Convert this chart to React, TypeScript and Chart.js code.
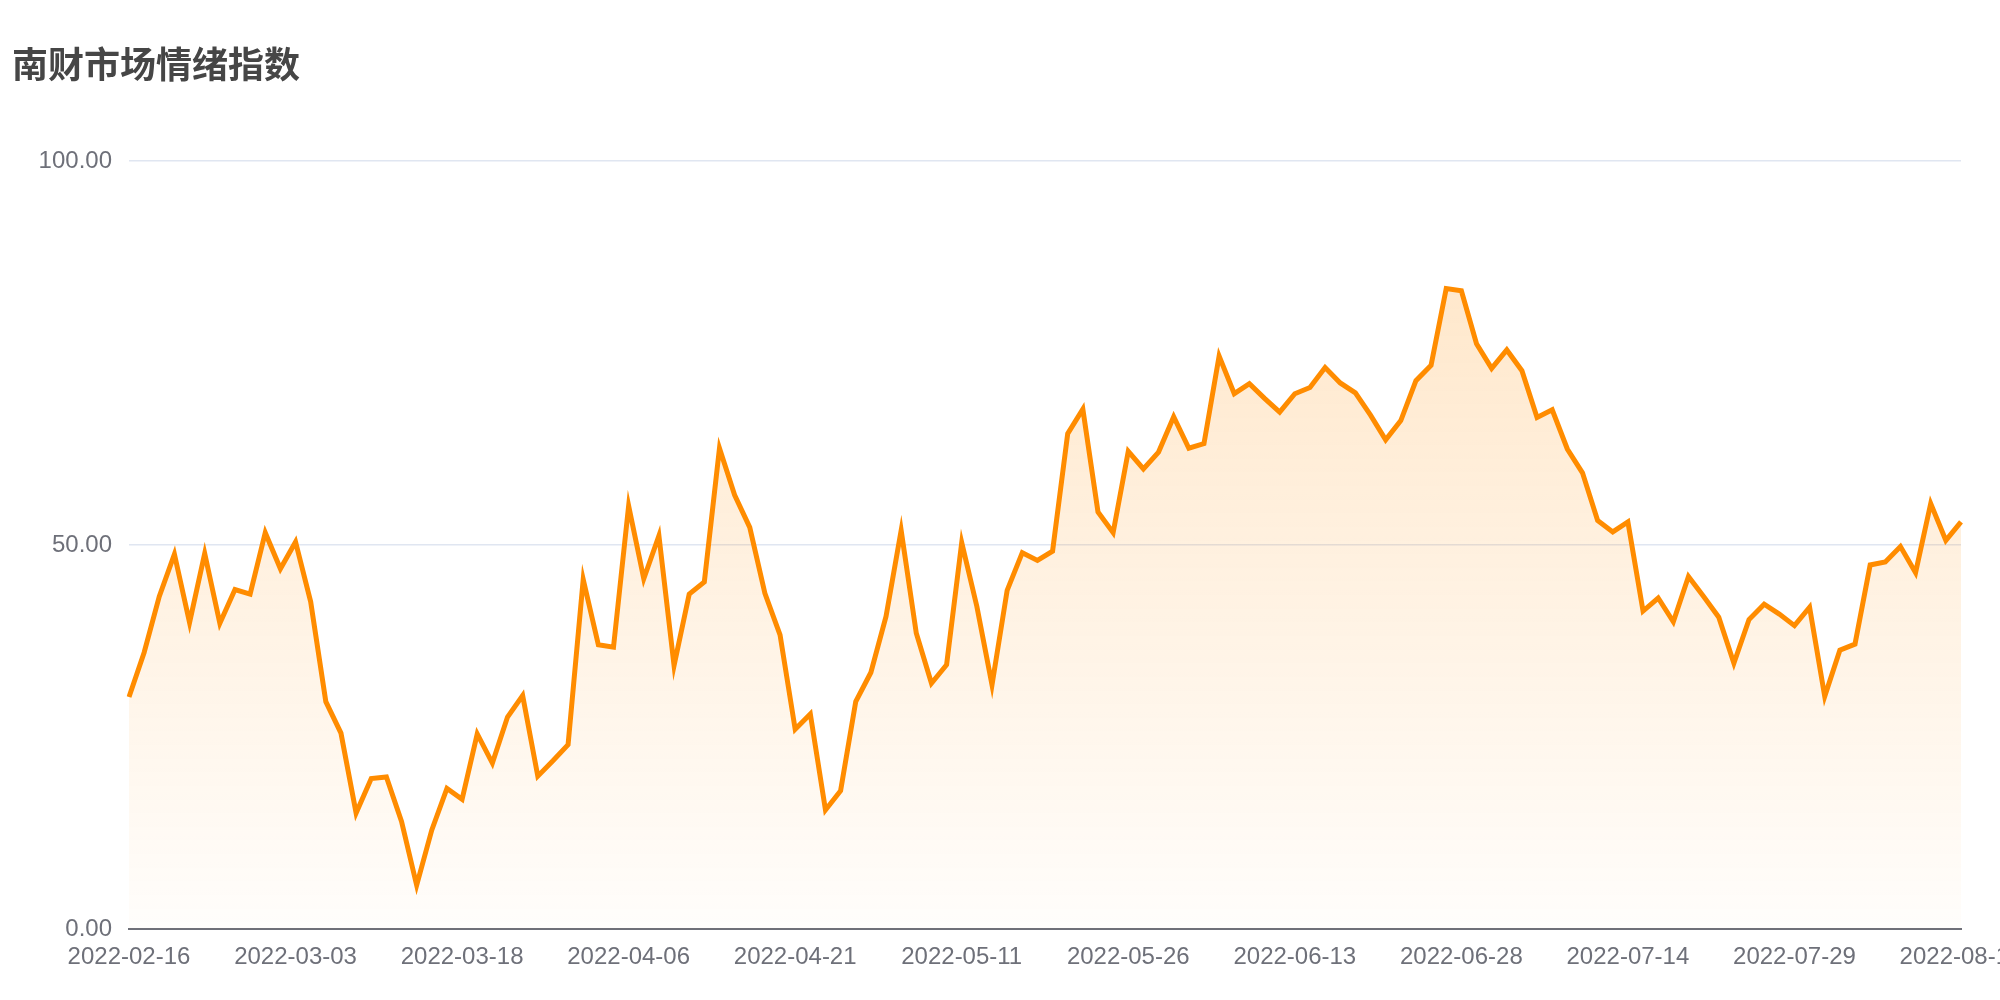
import React, { useEffect, useRef } from "react";
import { Chart, registerables } from "chart.js";

Chart.register(...registerables);

const TITLE = "南财市场情绪指数";

const dates: string[] = [
  "2022-02-16", "2022-02-17", "2022-02-18", "2022-02-21", "2022-02-22", "2022-02-23", "2022-02-24", "2022-02-25", "2022-02-28",
  "2022-03-01", "2022-03-02", "2022-03-03", "2022-03-04", "2022-03-07", "2022-03-08", "2022-03-09", "2022-03-10", "2022-03-11",
  "2022-03-14", "2022-03-15", "2022-03-16", "2022-03-17", "2022-03-18", "2022-03-21", "2022-03-22", "2022-03-23", "2022-03-24",
  "2022-03-25", "2022-03-28", "2022-03-29", "2022-03-30", "2022-03-31", "2022-04-01", "2022-04-06", "2022-04-07", "2022-04-08",
  "2022-04-11", "2022-04-12", "2022-04-13", "2022-04-14", "2022-04-15", "2022-04-18", "2022-04-19", "2022-04-20", "2022-04-21",
  "2022-04-22", "2022-04-25", "2022-04-26", "2022-04-27", "2022-04-28", "2022-04-29", "2022-05-05", "2022-05-06", "2022-05-09",
  "2022-05-10", "2022-05-11", "2022-05-12", "2022-05-13", "2022-05-16", "2022-05-17", "2022-05-18", "2022-05-19", "2022-05-20",
  "2022-05-23", "2022-05-24", "2022-05-25", "2022-05-26", "2022-05-27", "2022-05-30", "2022-05-31", "2022-06-01", "2022-06-02",
  "2022-06-06", "2022-06-07", "2022-06-08", "2022-06-09", "2022-06-10", "2022-06-13", "2022-06-14", "2022-06-15", "2022-06-16",
  "2022-06-17", "2022-06-20", "2022-06-21", "2022-06-22", "2022-06-23", "2022-06-24", "2022-06-27", "2022-06-28", "2022-06-29",
  "2022-06-30", "2022-07-04", "2022-07-05", "2022-07-06", "2022-07-07", "2022-07-08", "2022-07-11", "2022-07-12", "2022-07-13",
  "2022-07-14", "2022-07-15", "2022-07-18", "2022-07-19", "2022-07-20", "2022-07-21", "2022-07-22", "2022-07-25", "2022-07-26",
  "2022-07-27", "2022-07-28", "2022-07-29", "2022-08-01", "2022-08-02", "2022-08-03", "2022-08-04", "2022-08-05", "2022-08-08",
  "2022-08-09", "2022-08-10", "2022-08-11", "2022-08-12", "2022-08-15",
];

const sentiment: number[] = [
  30.2, 36.0, 43.3, 48.8, 39.9, 48.9, 39.8, 44.2, 43.6, 51.6,
  46.9, 50.4, 42.6, 29.6, 25.5, 15.1, 19.6, 19.8, 14.0, 5.7,
  12.9, 18.3, 16.9, 25.4, 21.6, 27.6, 30.4, 19.9, 21.9, 24.0,
  45.5, 37.0, 36.7, 55.1, 45.6, 51.2, 34.3, 43.6, 45.2, 62.6,
  56.5, 52.3, 43.7, 38.3, 26.0, 28.0, 15.5, 18.0, 29.6, 33.4,
  40.7, 51.9, 38.5, 32.0, 34.4, 50.3, 42.0, 31.8, 44.1, 49.0,
  48.0, 49.2, 64.5, 67.7, 54.3, 51.6, 62.2, 59.9, 62.1, 66.7,
  62.6, 63.2, 74.6, 69.7, 71.0, 69.1, 67.3, 69.7, 70.5, 73.1,
  71.1, 69.8, 66.9, 63.7, 66.2, 71.4, 73.4, 83.4, 83.1, 76.2,
  73.0, 75.4, 72.7, 66.6, 67.6, 62.5, 59.4, 53.2, 51.7, 53.0,
  41.4, 43.1, 40.0, 45.9, 43.3, 40.6, 34.6, 40.3, 42.3, 41.0,
  39.5, 41.9, 30.3, 36.3, 37.1, 47.4, 47.8, 49.8, 46.4, 55.4,
  50.6, 53.0,
];

const yTicks: number[] = [0, 50, 100];
const LABEL_EVERY = 11;

const PLOT_LEFT = 129;
const PLOT_RIGHT = 1961;
const PLOT_TOP = 161;
const PLOT_BOTTOM = 929;
const CANVAS_W = 2000;
const CANVAS_H = 1000;

const pinLayout = {
  id: "pinLayout",
  afterLayout: (ch: any) => {
    ch.chartArea = {
      left: PLOT_LEFT,
      top: PLOT_TOP,
      right: PLOT_RIGHT,
      bottom: PLOT_BOTTOM,
      width: PLOT_RIGHT - PLOT_LEFT,
      height: PLOT_BOTTOM - PLOT_TOP,
    };
    const x = ch.scales.x;
    const y = ch.scales.y;
    x.left = PLOT_LEFT;
    x.right = PLOT_RIGHT;
    x.top = PLOT_BOTTOM;
    x.bottom = CANVAS_H;
    x.width = PLOT_RIGHT - PLOT_LEFT;
    x.height = CANVAS_H - PLOT_BOTTOM;
    y.left = 0;
    y.right = PLOT_LEFT;
    y.top = PLOT_TOP;
    y.bottom = PLOT_BOTTOM;
    y.width = PLOT_LEFT;
    y.height = PLOT_BOTTOM - PLOT_TOP;
    [x, y].forEach((s: any) => {
      s.configure();
      s._labelItems = null;
      s._gridLineItems = null;
    });
  },
};

export default function App() {
  const canvasRef = useRef<HTMLCanvasElement | null>(null);

  useEffect(() => {
    document.body.style.margin = "0";
    document.body.style.overflow = "hidden";
    const canvas = canvasRef.current;
    if (!canvas) return;
    const maxVal = Math.max(...sentiment);

    const tickFont = { family: "'Liberation Sans', Arial, sans-serif", size: 24 };

    const chart = new Chart(canvas, {
      type: "line",
      data: {
        labels: dates,
        datasets: [
          {
            data: sentiment,
            borderColor: "rgb(255,140,0)",
            borderWidth: 5,
            pointRadius: 0,
            pointHoverRadius: 0,
            tension: 0,
            fill: "origin",
            backgroundColor: (ctx: any) => {
              const ch = ctx.chart;
              const area = ch.chartArea;
              if (!area) return "rgba(255,140,0,0.1)";
              const top = ch.scales.y.getPixelForValue(maxVal);
              const g = ch.ctx.createLinearGradient(0, top, 0, area.bottom);
              g.addColorStop(0, "rgba(255,140,0,0.2)");
              g.addColorStop(1, "rgba(255,140,0,0.015)");
              return g;
            },
          },
        ],
      },
      options: {
        responsive: false,
        animation: false,
        devicePixelRatio: 1,
        layout: { padding: { top: PLOT_TOP, right: CANVAS_W - PLOT_RIGHT, left: 0, bottom: 0 } },
        plugins: {
          legend: { display: false },
          title: { display: false },
          tooltip: { enabled: false },
        },
        scales: {
          x: {
            grid: { display: false, drawTicks: false },
            border: { display: true, color: "#6E7079", width: 2 },
            ticks: {
              autoSkip: false,
              maxRotation: 0,
              minRotation: 0,
              padding: 14,
              color: "#6E7079",
              font: tickFont,
              callback: (_v: any, i: number) => (i % LABEL_EVERY === 0 ? dates[i] : null),
            },
            afterFit: (s: any) => {
              s.height = CANVAS_H - PLOT_BOTTOM;
              s.paddingLeft = 0;
              s.paddingRight = 0;
            },
          },
          y: {
            min: 0,
            max: 100,
            afterBuildTicks: (s: any) => {
              s.ticks = yTicks.map((v) => ({ value: v }));
            },
            grid: { color: "#E0E6F1", lineWidth: 1.5, drawTicks: false },
            border: { display: false },
            ticks: {
              padding: 17,
              color: "#6E7079",
              font: tickFont,
              callback: (v: any) => Number(v).toFixed(2),
            },
            afterFit: (s: any) => {
              s.width = PLOT_LEFT;
              s.paddingTop = 0;
              s.paddingBottom = 0;
            },
          },
        },
      },
      plugins: [pinLayout],
    });

    return () => {
      chart.destroy();
    };
  }, []);

  return (
    <div style={{ position: "relative", width: CANVAS_W, height: CANVAS_H, overflow: "hidden", background: "#fff" }}>
      <div
        style={{
          position: "absolute",
          left: 12,
          top: 44,
          fontFamily: "'Noto Sans CJK SC', sans-serif",
          fontWeight: 700,
          fontSize: 36,
          lineHeight: "36px",
          color: "#464646",
          whiteSpace: "nowrap",
        }}
      >
        {TITLE}
      </div>
      <canvas ref={canvasRef} width={CANVAS_W} height={CANVAS_H} style={{ display: "block" }} />
    </div>
  );
}
